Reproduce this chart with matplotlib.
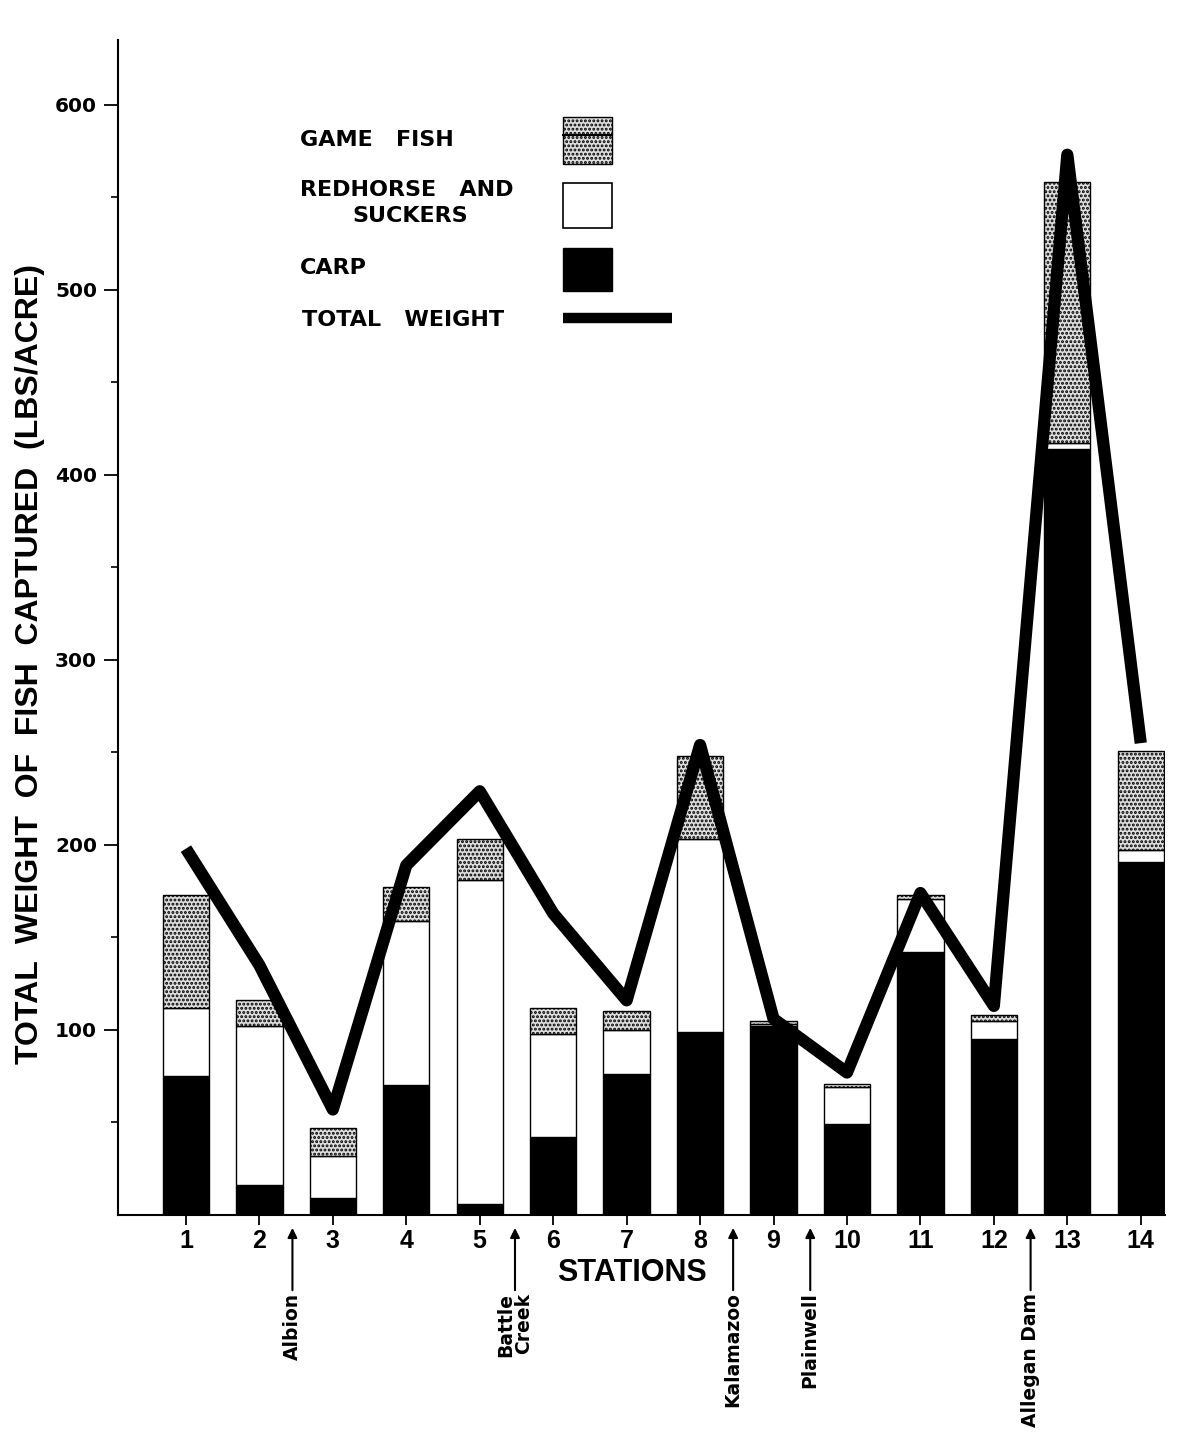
import matplotlib
matplotlib.use("Agg")
import matplotlib.pyplot as plt
import matplotlib.transforms as mtransforms
from matplotlib.patches import Rectangle
from matplotlib.lines import Line2D
import numpy as np

# ---- data ----
stations = [1, 2, 3, 4, 5, 6, 7, 8, 9, 10, 11, 12, 13, 14]
carp = [75, 16, 9, 70, 6, 42, 76, 99, 102, 49, 142, 95, 414, 191]
redhorse = [37, 86, 23, 89, 175, 56, 24, 104, 1, 20, 29, 10, 3, 6]
game_fish = [61, 14, 15, 18, 22, 14, 10, 45, 2, 2, 2, 3, 141, 54]
total_weight = [198, 135, 57, 189, 229, 163, 116, 254, 106, 77, 174, 113, 573, 255]

landmark_names = ["Albion", "Battle\nCreek", "Kalamazoo", "Plainwell", "Allegan Dam"]
landmark_pos = [2.45, 5.48, 8.45, 9.5, 12.5]

yticks = [100, 200, 300, 400, 500, 600]

plt.rcParams['hatch.linewidth'] = 1.4
FONT = 'DejaVu Sans'
FONT2 = 'Liberation Sans'

W, H = 1184, 1432
fig = plt.figure(figsize=(W / 100, H / 100), dpi=100)
fig.patch.set_facecolor('white')

ax = fig.add_axes([118 / W, 1 - 1215 / H, (1165 - 118) / W, (1215 - 40) / H])

bw = 0.63
ax.bar(stations, carp, width=bw, color='black', edgecolor='black', linewidth=1, zorder=2)
bottom2 = np.array(carp)
ax.bar(stations, redhorse, width=bw, bottom=bottom2, color='white', edgecolor='black',
       linewidth=1, zorder=2)
bottom3 = bottom2 + np.array(redhorse)
ax.bar(stations, game_fish, width=bw, bottom=bottom3, color='#dedede', edgecolor='black',
       hatch='....', linewidth=1, zorder=2)

ax.plot(stations, total_weight, color='black', linewidth=8.8, solid_joinstyle='round',
        solid_capstyle='butt', zorder=4)

ax.set_xlim(0.075, 14.33)
ax.set_ylim(0, 635)
ax.spines['top'].set_visible(False)
ax.spines['right'].set_visible(False)
ax.spines['left'].set_linewidth(1.5)
ax.spines['bottom'].set_linewidth(1.5)

ax.set_yticks(yticks)
ax.set_yticks([50, 150, 250, 350, 450, 550], minor=True)
ax.set_xticks(stations)
ax.set_xticklabels([str(s) for s in stations], fontfamily=FONT2, fontweight='bold', fontsize=18)
ax.set_yticklabels([str(v) for v in yticks], fontfamily=FONT, fontweight='bold', fontsize=14.5)
ax.tick_params(axis='y', which='major', length=10, width=1.3, pad=5)
ax.tick_params(axis='y', which='minor', length=5, width=1.2)
ax.tick_params(axis='x', which='major', length=7, width=1.3, pad=3)

# axis labels
fig.text(632 / W, 1 - 1273 / H, "STATIONS", ha='center', va='center', fontfamily=FONT2,
         fontweight='bold', fontsize=22)
fig.text(30 / W, 1 - 664 / H, "TOTAL  WEIGHT  OF  FISH  CAPTURED  (LBS/ACRE)", rotation=90,
         ha='center', va='center', fontfamily=FONT2, fontweight='bold', fontsize=23)

# landmark arrows & labels
trans = mtransforms.blended_transform_factory(ax.transData, ax.transAxes)
for name, xp in zip(landmark_names, landmark_pos):
    ax.annotate("", xy=(xp, -0.011), xytext=(xp, -0.064), xycoords=trans, textcoords=trans,
                arrowprops=dict(arrowstyle='-|>', color='black', lw=1.5,
                                mutation_scale=14, shrinkA=0, shrinkB=0),
                annotation_clip=False)
    ax.text(xp, -0.066, name, transform=trans, rotation=90, ha='center', va='top',
            fontfamily=FONT, fontweight='bold', fontsize=13.5, multialignment='right',
            linespacing=0.95, clip_on=False)

# legend (drawn by hand)
def fx(x):
    return x / W

def fy(y):
    return 1 - y / H

txt_kw = dict(fontfamily=FONT, fontweight='bold', fontsize=16, va='center')
fig.text(fx(300), fy(140), "GAME   FISH", ha='left', **txt_kw)
fig.text(fx(300), fy(190), "REDHORSE   AND", ha='left', **txt_kw)
fig.text(fx(410), fy(216), "SUCKERS", ha='center', **txt_kw)
fig.text(fx(300), fy(268), "CARP", ha='left', **txt_kw)
fig.text(fx(302), fy(320), "TOTAL   WEIGHT", ha='left', **txt_kw)

pw, ph = 49 / W, 47 / H
fig.patches.append(Rectangle((fx(563), fy(164)), pw, ph, transform=fig.transFigure,
                             facecolor='#dedede', edgecolor='black', hatch='....', linewidth=1))
fig.lines.append(Line2D([fx(563), fx(612)], [fy(135), fy(135)], transform=fig.transFigure,
                        color='black', linewidth=1.5))
fig.patches.append(Rectangle((fx(563), fy(228)), pw, 45 / H, transform=fig.transFigure,
                             facecolor='white', edgecolor='black', linewidth=1.2))
fig.patches.append(Rectangle((fx(563), fy(291)), pw, 43 / H, transform=fig.transFigure,
                             facecolor='black', edgecolor='black', linewidth=1))
fig.lines.append(Line2D([fx(563), fx(672)], [fy(318), fy(318)], transform=fig.transFigure,
                        color='black', linewidth=7.5, solid_capstyle='butt'))

fig.savefig("out.png", dpi=100, facecolor='white')
